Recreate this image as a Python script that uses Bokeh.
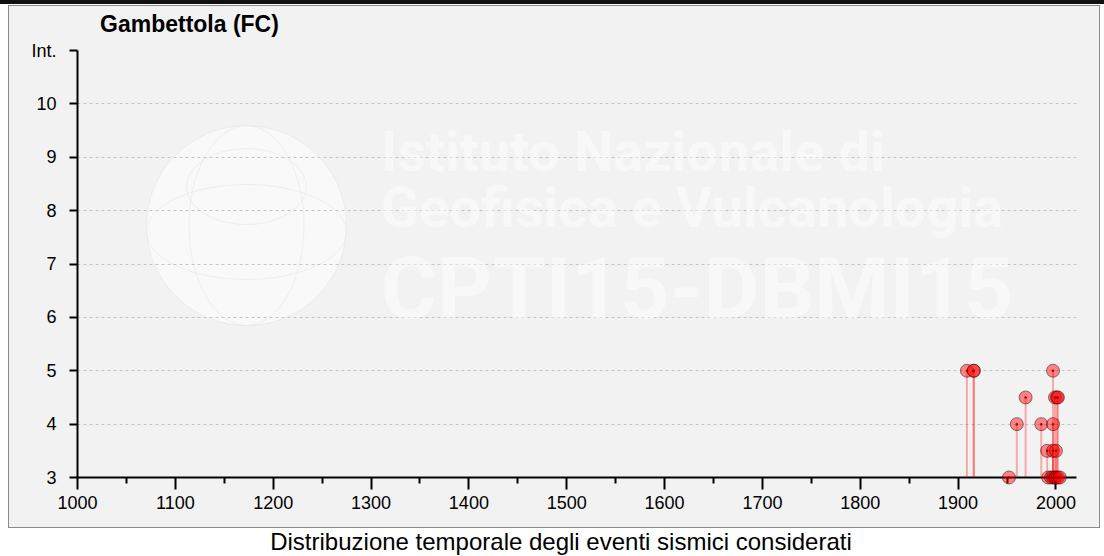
from bokeh.plotting import figure
from bokeh.models import Range1d, FixedTicker, Label, Div
from bokeh.layouts import column
from bokeh.embed import file_html
from bokeh.resources import INLINE

# ---------------- data ----------------
title_text = "Gambettola (FC)"
caption_text = "Distribuzione temporale degli eventi sismici considerati"

years = [1909, 1916, 1916, 1952, 1960, 1969, 1985, 1991, 1992, 1995, 1997,
         1997, 1997, 1997, 1999, 1999, 2000, 2000, 2001, 2002, 2002, 2004]
intensities = [5, 5, 5, 3, 4, 4.5, 4, 3.5, 3, 3, 5,
               4, 3.5, 3, 3, 4.5, 3.5, 3, 4.5, 4.5, 3, 3]

x_major_ticks = [1000, 1100, 1200, 1300, 1400, 1500, 1600, 1700, 1800, 1900, 2000]
x_minor_ticks = [1050, 1150, 1250, 1350, 1450, 1550, 1650, 1750, 1850, 1950]
y_ticks = [3, 4, 5, 6, 7, 8, 9, 10, 11]
y_label_overrides = {11: "Int."}

# watermark (decoration)
wm_lines = ["Istituto Nazionale di", "Geofisica e Vulcanologia", "CPTI15-DBMI15"]
wm_x = [1310, 1310, 1310]
wm_y = [9.10, 8.04, 6.55]
wm_sizes = ["56px", "56px", "86px"]
globe_x = [1172.7]
globe_y = [7.72]

FONT = "Liberation Sans"
PANEL_BG = "#f2f2f2"
BORDER = "#8a8a8a"

p = figure(width=1090, height=487, output_backend="svg", toolbar_location=None,
           x_range=Range1d(1000, 2021), y_range=Range1d(3, 11),
           min_border_left=68, min_border_right=23, min_border_top=10,
           min_border_bottom=50,
           background_fill_color=PANEL_BG, border_fill_color=PANEL_BG,
           outline_line_color=None)
p.title = None
p.margin = (0, 1, 0, 1)

# watermark globe
p.scatter(globe_x, globe_y, size=200, fill_color="white", fill_alpha=0.5,
          line_color="#e6e6e6", line_alpha=0.6, level="underlay")
p.ellipse(globe_x, [8.45], width=120, height=76, width_units="screen",
          height_units="screen", fill_alpha=0, line_color="#e6e6e6", line_alpha=0.6,
          level="underlay")
p.ellipse(globe_x, globe_y, width=115, height=200, width_units="screen",
          height_units="screen", fill_alpha=0, line_color="#e6e6e6", line_alpha=0.6,
          level="underlay")
p.ellipse(globe_x, [7.6], width=200, height=95, width_units="screen",
          height_units="screen", fill_alpha=0, line_color="#e6e6e6", line_alpha=0.6,
          level="underlay")

for t, x, y, s in zip(wm_lines, wm_x, wm_y, wm_sizes):
    p.add_layout(Label(x=x, y=y, text=t, text_font="Roboto", text_font_size=s,
                       text_font_style="bold", text_color="white", text_alpha=0.45,
                       text_baseline="alphabetic", text_align="left",
                       level="underlay"))

# stems and points (overlay level so markers on the baseline are not clipped)
p.segment(x0=years, y0=3, x1=years, y1=intensities, line_color="red",
          line_alpha=0.3, line_width=2, level="overlay")
p.scatter(years, intensities, size=13, fill_color="red", fill_alpha=0.45,
          line_color="#3a0000", line_alpha=0.5, line_width=1, level="overlay")
p.scatter(years, intensities, size=2.5, fill_color="#b00000", line_color=None,
          level="overlay")

# x axis
xa = p.xaxis[0]
xa.ticker = FixedTicker(ticks=x_major_ticks, minor_ticks=x_minor_ticks)
xa.axis_line_width = 2
xa.axis_line_color = "black"
xa.major_tick_line_width = 2
xa.minor_tick_line_width = 2
xa.major_tick_in = 0
xa.major_tick_out = 12
xa.minor_tick_in = 0
xa.minor_tick_out = 6
xa.major_label_standoff = 6
xa.major_label_text_font = FONT
xa.major_label_text_font_size = "18px"
xa.major_label_text_color = "#000000"

# y axis
ya = p.yaxis[0]
ya.ticker = FixedTicker(ticks=y_ticks)
ya.major_label_overrides = y_label_overrides
ya.axis_line_width = 2
ya.axis_line_color = "black"
ya.major_tick_line_width = 2
ya.major_tick_in = 0
ya.major_tick_out = 8
ya.minor_tick_line_color = None
ya.major_label_standoff = 13
ya.major_label_text_font = FONT
ya.major_label_text_font_size = "18px"
ya.major_label_text_color = "#000000"

p.xgrid.visible = False
p.ygrid.grid_line_color = "#c4c4c4"
p.ygrid.grid_line_dash = "3 3"
p.ygrid.grid_line_width = 1

top_bar = Div(text="", width=1104, height=4, margin=(0, 0, 0, 0),
              styles={"background-color": "#111111"})

title_div = Div(text=f'<div style="padding:8px 0 0 92px;font-family:\'Liberation Sans\',Arial;'
                     f'font-weight:bold;font-size:23px;line-height:23px;color:#000;'
                     f'white-space:nowrap">{title_text}</div>',
                width=1092, height=35, margin=(1, 4, 0, 8),
                styles={"background-color": PANEL_BG,
                        "box-shadow": f"inset 1px 1px 0 {BORDER}, inset -1px 0 0 {BORDER}"})

# wrapper whose 1px side strips show the panel's left/right border
plot_wrap = column(p, spacing=0, margin=(0, 4, 0, 8),
                   styles={"background-color": PANEL_BG,
                           "box-shadow": f"inset 1px 0 0 {BORDER}, inset -1px 0 0 {BORDER}"})

bottom_edge = Div(text="", width=1092, height=1, margin=(0, 4, 0, 8),
                  styles={"background-color": BORDER})

caption = Div(text=f'<div style="width:1100px;text-align:center;font-family:\'Liberation Sans\',Arial;'
                   f'font-size:24px;line-height:28px;color:#000;padding-left:22px;box-sizing:border-box">'
                   f'{caption_text}</div>',
              width=1100, height=28, margin=(0, 0, 0, 0))

layout = column(top_bar, title_div, plot_wrap, bottom_edge, caption, spacing=0)

open("out.html", "w").write(file_html(layout, INLINE))
